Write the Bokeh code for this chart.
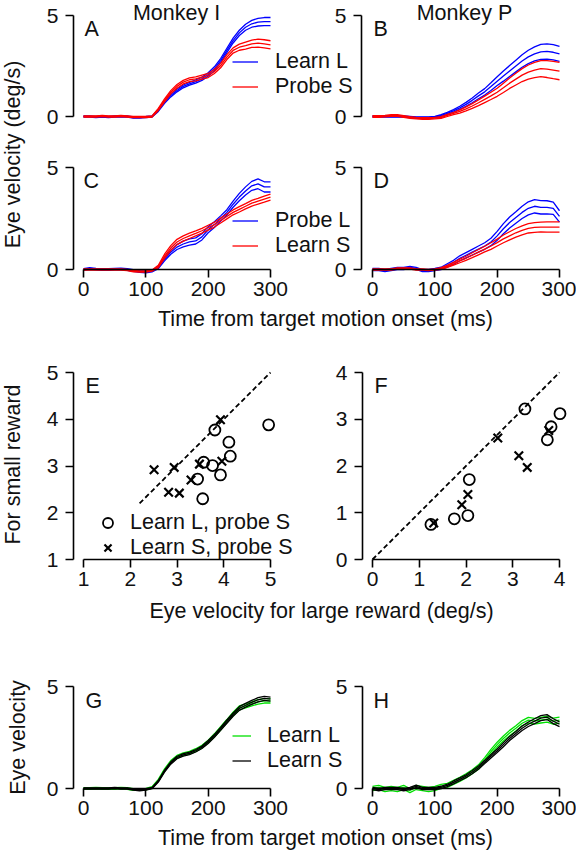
from math import pi
from bokeh.plotting import figure
from bokeh.models import Range1d, LinearAxis, FixedTicker, Legend, LegendItem
from bokeh.core.properties import value
from bokeh.embed import file_html
from bokeh.resources import INLINE

# ---------------- data ----------------
t_ms = [0, 10, 20, 30, 40, 50, 60, 70, 80, 90, 100, 110, 120, 130, 140, 150,
        160, 170, 180, 190, 200, 210, 220, 230, 240, 250, 260, 270, 280, 290, 300]

# Panel A (Monkey I): Learn L (blue), Probe S (red)
A_learnL_mean = [0, 0, -0.02, 0, -0.02, 0, 0, 0, -0.05, -0.05, -0.03, 0, 0.3, 0.71, 1.04, 1.29,
                 1.49, 1.62, 1.73, 1.87, 2.08, 2.36, 2.77, 3.27, 3.76, 4.14, 4.42, 4.59, 4.67, 4.7, 4.7]
A_learnL_se = [0.03, 0.03, 0.03, 0.03, 0.03, 0.03, 0.03, 0.03, 0.03, 0.03, 0.03, 0.03, 0.05, 0.06, 0.07, 0.07,
               0.07, 0.07, 0.08, 0.08, 0.09, 0.1, 0.1, 0.11, 0.12, 0.13, 0.15, 0.17, 0.19, 0.2, 0.2]
A_probeS_mean = [0, 0, 0, 0.02, 0, 0, 0.02, 0, -0.03, -0.03, -0.02, 0, 0.35, 0.8, 1.2, 1.49,
                 1.7, 1.82, 1.86, 1.95, 2.03, 2.23, 2.52, 2.94, 3.27, 3.43, 3.51, 3.6, 3.63, 3.6, 3.55]
A_probeS_se = [0.03, 0.03, 0.03, 0.03, 0.03, 0.03, 0.03, 0.03, 0.03, 0.03, 0.03, 0.03, 0.05, 0.07, 0.08, 0.09,
               0.09, 0.09, 0.1, 0.1, 0.1, 0.1, 0.11, 0.12, 0.13, 0.15, 0.17, 0.18, 0.2, 0.2, 0.2]

# Panel B (Monkey P): Learn L (blue), Probe S (red)
B_learnL_mean = [0, 0, 0, 0, 0, 0, -0.02, -0.05, -0.05, -0.05, -0.02, 0.05, 0.15, 0.28, 0.43, 0.6,
                 0.8, 1.02, 1.22, 1.48, 1.75, 2.0, 2.25, 2.5, 2.75, 2.95, 3.1, 3.2, 3.22, 3.18, 3.1]
B_learnL_se = [0.03, 0.03, 0.03, 0.03, 0.03, 0.03, 0.03, 0.03, 0.03, 0.03, 0.03, 0.04, 0.05, 0.06, 0.08, 0.1,
               0.12, 0.14, 0.16, 0.19, 0.22, 0.25, 0.27, 0.29, 0.31, 0.33, 0.35, 0.37, 0.38, 0.38, 0.37]
B_probeS_mean = [0, 0, 0.02, 0.05, 0.05, 0, -0.05, -0.08, -0.1, -0.1, -0.08, -0.05, 0.05, 0.15, 0.25, 0.38,
                 0.52, 0.68, 0.85, 1.02, 1.2, 1.42, 1.65, 1.85, 2.05, 2.2, 2.3, 2.37, 2.35, 2.3, 2.25]
B_probeS_se = [0.04, 0.04, 0.04, 0.04, 0.04, 0.04, 0.04, 0.04, 0.04, 0.04, 0.04, 0.04, 0.05, 0.06, 0.08, 0.1,
               0.12, 0.14, 0.16, 0.18, 0.2, 0.23, 0.26, 0.29, 0.32, 0.35, 0.38, 0.4, 0.42, 0.43, 0.43]

# Panel C (Monkey I): Probe L (blue), Learn S (red)
C_probeL_mean = [0, 0.05, 0.02, 0, 0, 0.02, 0.03, 0, -0.05, -0.1, -0.12, -0.08, 0.1, 0.5, 0.85, 1.1,
                 1.25, 1.35, 1.4, 1.6, 1.95, 2.2, 2.5, 2.8, 3.2, 3.55, 3.85, 4.1, 4.2, 4.05, 4.05]
C_probeL_se = [0.04, 0.04, 0.04, 0.04, 0.04, 0.04, 0.04, 0.04, 0.04, 0.04, 0.04, 0.04, 0.06, 0.08, 0.1, 0.12,
               0.14, 0.15, 0.15, 0.15, 0.15, 0.14, 0.13, 0.13, 0.15, 0.18, 0.2, 0.22, 0.24, 0.25, 0.25]
C_learnS_mean = [0, 0, 0, 0, 0, 0, 0, -0.03, -0.08, -0.1, -0.1, -0.05, 0.15, 0.65, 1.05, 1.35,
                 1.52, 1.65, 1.77, 1.9, 2.05, 2.2, 2.4, 2.6, 2.8, 2.95, 3.1, 3.25, 3.35, 3.45, 3.55]
C_learnS_se = [0.03, 0.03, 0.03, 0.03, 0.03, 0.03, 0.03, 0.03, 0.03, 0.03, 0.03, 0.03, 0.06, 0.1, 0.12, 0.13,
               0.13, 0.13, 0.12, 0.12, 0.12, 0.12, 0.12, 0.12, 0.12, 0.13, 0.13, 0.14, 0.14, 0.15, 0.15]

# Panel D (Monkey P): Probe L (blue), Learn S (red)
D_probeL_mean = [0, 0, -0.05, 0, 0.05, 0.05, 0.1, 0.05, -0.05, -0.05, 0, 0.05, 0.2, 0.35, 0.55, 0.7,
                 0.85, 1.0, 1.15, 1.35, 1.65, 2.0, 2.3, 2.55, 2.8, 3.0, 3.1, 3.05, 3.05, 3.0, 2.6]
D_probeL_se = [0.05, 0.05, 0.05, 0.05, 0.05, 0.05, 0.05, 0.05, 0.05, 0.05, 0.05, 0.06, 0.08, 0.1, 0.12, 0.13,
               0.14, 0.15, 0.16, 0.18, 0.22, 0.25, 0.27, 0.28, 0.3, 0.32, 0.33, 0.33, 0.32, 0.3, 0.28]
D_learnS_mean = [0, 0, 0, 0, 0.05, 0.05, 0.05, 0, 0, -0.02, 0, 0.05, 0.15, 0.28, 0.42, 0.55,
                 0.7, 0.85, 1.0, 1.15, 1.32, 1.5, 1.65, 1.8, 1.92, 2.02, 2.06, 2.08, 2.08, 2.08, 2.08]
D_learnS_se = [0.03, 0.03, 0.03, 0.03, 0.03, 0.03, 0.03, 0.03, 0.03, 0.03, 0.03, 0.04, 0.05, 0.07, 0.09, 0.1,
               0.12, 0.13, 0.14, 0.16, 0.17, 0.19, 0.2, 0.21, 0.22, 0.23, 0.24, 0.24, 0.25, 0.25, 0.25]

# Panel G (Monkey I): Learn L (green), Learn S (black)
G_learnL_mean = [0, 0, 0.02, 0, 0, 0, 0.02, 0, -0.05, -0.05, -0.03, 0.05, 0.4, 0.9, 1.3, 1.55,
                 1.68, 1.75, 1.88, 2.05, 2.3, 2.6, 2.95, 3.3, 3.65, 3.95, 4.05, 4.15, 4.25, 4.3, 4.3]
G_learnL_se = [0.04, 0.04, 0.04, 0.04, 0.04, 0.04, 0.04, 0.04, 0.04, 0.04, 0.04, 0.04, 0.05, 0.06, 0.07, 0.07,
               0.07, 0.07, 0.07, 0.07, 0.07, 0.08, 0.08, 0.08, 0.09, 0.1, 0.1, 0.1, 0.11, 0.11, 0.11]
G_learnS_mean = [0, 0, 0, 0, 0, 0.02, 0, 0, -0.05, -0.08, -0.05, 0.02, 0.35, 0.85, 1.25, 1.52,
                 1.65, 1.72, 1.85, 2.02, 2.28, 2.58, 2.92, 3.28, 3.62, 3.92, 4.08, 4.22, 4.35, 4.42, 4.38]
G_learnS_se = [0.03, 0.03, 0.03, 0.03, 0.03, 0.03, 0.03, 0.03, 0.03, 0.03, 0.03, 0.03, 0.04, 0.05, 0.06, 0.06,
               0.06, 0.06, 0.06, 0.06, 0.07, 0.07, 0.07, 0.08, 0.08, 0.09, 0.09, 0.1, 0.1, 0.1, 0.1]

# Panel H (Monkey P): Learn L (green), Learn S (black)
H_learnL_mean = [0, 0.05, -0.05, 0, -0.05, 0.05, -0.1, 0.05, 0, -0.05, 0, 0.1, 0.15, 0.3, 0.45, 0.62,
                 0.82, 1.05, 1.4, 1.8, 2.15, 2.45, 2.72, 2.95, 3.2, 3.35, 3.3, 3.35, 3.4, 3.3, 3.35]
H_learnL_se = [0.1, 0.1, 0.1, 0.1, 0.1, 0.1, 0.1, 0.1, 0.1, 0.1, 0.1, 0.1, 0.1, 0.1, 0.1, 0.1,
               0.1, 0.11, 0.11, 0.12, 0.12, 0.12, 0.13, 0.13, 0.13, 0.14, 0.14, 0.14, 0.15, 0.15, 0.15]
H_learnS_mean = [0, -0.05, 0, 0, 0, -0.05, 0, 0.1, 0, 0, 0, 0.05, 0.15, 0.3, 0.45, 0.6,
                 0.8, 1.02, 1.3, 1.58, 1.85, 2.15, 2.45, 2.7, 2.95, 3.15, 3.3, 3.45, 3.5, 3.3, 3.15]
H_learnS_se = [0.06, 0.06, 0.06, 0.06, 0.06, 0.06, 0.06, 0.06, 0.06, 0.06, 0.06, 0.06, 0.06, 0.07, 0.07, 0.07,
               0.08, 0.08, 0.08, 0.09, 0.09, 0.1, 0.1, 0.1, 0.11, 0.11, 0.12, 0.12, 0.12, 0.12, 0.12]

# Panel E (Monkey I) scatter: eye velocity large reward (x) vs small reward (y)
E_learnL_x = [4.96, 3.81, 4.11, 4.14, 3.57, 3.76, 3.93, 3.44, 3.55]
E_learnL_y = [3.88, 3.77, 3.51, 3.21, 3.08, 3.01, 2.81, 2.72, 2.30]
E_learnS_x = [2.51, 2.94, 3.48, 3.30, 2.82, 3.05, 3.93, 3.96]
E_learnS_y = [2.92, 2.97, 3.04, 2.70, 2.44, 2.42, 3.99, 3.10]
E_unity = [2.2, 5.0]

# Panel F (Monkey P) scatter
F_learnL_x = [3.26, 4.01, 3.82, 3.74, 2.07, 1.75, 2.04, 1.25]
F_learnL_y = [3.22, 3.12, 2.84, 2.56, 1.71, 0.87, 0.94, 0.75]
F_learnS_x = [1.31, 1.91, 2.04, 2.68, 3.13, 3.31, 3.77]
F_learnS_y = [0.78, 1.17, 1.39, 2.60, 2.22, 1.97, 2.76]
F_unity = [0.0, 4.0]

time_ticks = [0, 100, 200, 300]
vel_ticks = [0, 5]
E_ticks = [1, 2, 3, 4, 5]
F_ticks = [0, 1, 2, 3, 4]

# ---------------- layout helpers (pixel placement of each panel) ----------------
FONT = "Liberation Sans"
W, H = 576, 852
OX, OY = 0, 0          # canvas origin in picture pixels

BLUE, RED, GREEN, BLACK = "#0000ff", "#ff0000", "#00e000", "#000000"


def make_x_range(v0, px0, v1, px1):
    k = (px1 - px0) / (v1 - v0)
    s = v0 - (px0 - OX) / k
    return Range1d(start=s, end=s + W / k), k


def make_y_range(v0, py0, v1, py1):
    k = (py0 - py1) / (v1 - v0)
    s = v0 - (OY + H - py0) / k
    return Range1d(start=s, end=s + H / k), k


p = figure(width=W, height=H, output_backend="svg", toolbar_location=None,
           title=None, x_axis_type=None, y_axis_type=None,
           x_range=Range1d(OX, OX + W), y_range=Range1d(OY + H, OY),
           min_border=0, outline_line_color=None)
p.grid.visible = False
p.background_fill_color = "white"
p.border_fill_color = "white"

# name: (x anchors, y anchors, y-spine pixel, xbounds, ybounds, xticks, yticks, draw x axis)
panels = {
    "A": ((0, 83, 300, 270), (0, 116, 5, 15), 73, (0, 300), (0, 5), time_ticks, vel_ticks, False),
    "B": ((0, 372, 300, 559), (0, 116, 5, 15), 361, (0, 300), (0, 5), time_ticks, vel_ticks, False),
    "C": ((0, 83, 300, 270), (0, 269, 5, 167), 73, (0, 300), (0, 5), time_ticks, vel_ticks, True),
    "D": ((0, 372, 300, 559), (0, 269, 5, 167), 361, (0, 300), (0, 5), time_ticks, vel_ticks, True),
    "E": ((1, 83, 5, 270), (1, 559, 5, 372), 73, (1, 5), (1, 5), E_ticks, E_ticks, True),
    "F": ((0, 372, 4, 559), (0, 559, 4, 372), 362, (0, 4), (0, 4), F_ticks, F_ticks, True),
    "G": ((0, 83, 300, 270), (0, 788, 5, 686), 73, (0, 300), (0, 5), time_ticks, vel_ticks, True),
    "H": ((0, 372, 300, 559), (0, 788, 5, 686), 362, (0, 300), (0, 5), time_ticks, vel_ticks, True),
}


def style_axis(ax):
    ax.axis_line_width = 1.6
    ax.axis_line_color = "black"
    ax.major_tick_line_width = 1.6
    ax.major_tick_line_color = "black"
    ax.major_tick_out = 8
    ax.major_tick_in = 0
    ax.minor_tick_line_color = None
    ax.major_label_text_font = FONT
    ax.major_label_text_font_size = "21px"
    ax.major_label_text_color = "#111111"


for name, (xa, ya, spine_px, xb, yb, xt, yt, draw_x) in panels.items():
    xr, kx = make_x_range(*xa)
    yr, ky = make_y_range(*ya)
    p.extra_x_ranges[name + "x"] = xr
    p.extra_y_ranges[name + "y"] = yr
    yax = LinearAxis(x_range_name=name + "x", y_range_name=name + "y",
                     fixed_location=xa[0] + (spine_px - xa[1]) / kx, bounds=yb,
                     ticker=FixedTicker(ticks=yt))
    style_axis(yax)
    yax.major_label_standoff = 7
    p.add_layout(yax, "left")
    if draw_x:
        xax = LinearAxis(x_range_name=name + "x", y_range_name=name + "y",
                         fixed_location=yb[0], bounds=xb,
                         ticker=FixedTicker(ticks=xt))
        style_axis(xax)
        xax.major_label_standoff = 4
        p.add_layout(xax, "below")


def traces(panel, mean, se, color):
    lo = [m - s for m, s in zip(mean, se)]
    hi = [m + s for m, s in zip(mean, se)]
    return p.multi_line(xs=[t_ms, t_ms, t_ms], ys=[lo, mean, hi], line_color=color,
                        line_width=1.3, x_range_name=panel + "x", y_range_name=panel + "y")


rA1 = traces("A", A_learnL_mean, A_learnL_se, BLUE)
rA2 = traces("A", A_probeS_mean, A_probeS_se, RED)
traces("B", B_learnL_mean, B_learnL_se, BLUE)
traces("B", B_probeS_mean, B_probeS_se, RED)
rC1 = traces("C", C_probeL_mean, C_probeL_se, BLUE)
rC2 = traces("C", C_learnS_mean, C_learnS_se, RED)
traces("D", D_probeL_mean, D_probeL_se, BLUE)
traces("D", D_learnS_mean, D_learnS_se, RED)
rG1 = traces("G", G_learnL_mean, G_learnL_se, GREEN)
rG2 = traces("G", G_learnS_mean, G_learnS_se, BLACK)
traces("H", H_learnL_mean, H_learnL_se, GREEN)
traces("H", H_learnS_mean, H_learnS_se, BLACK)

# scatter panels
p.line(E_unity, E_unity, line_color="black", line_width=1.8, line_dash="5 3",
       x_range_name="Ex", y_range_name="Ey")
p.line(F_unity, F_unity, line_color="black", line_width=1.8, line_dash="5 3",
       x_range_name="Fx", y_range_name="Fy")
rE1 = p.scatter(E_learnL_x, E_learnL_y, marker="circle", size=11, fill_color=None,
                line_color="black", line_width=1.8, x_range_name="Ex", y_range_name="Ey")
rE2 = p.scatter(E_learnS_x, E_learnS_y, marker="x", size=12,
                line_color="black", line_width=2.2, x_range_name="Ex", y_range_name="Ey")
p.scatter(F_learnL_x, F_learnL_y, marker="circle", size=11, fill_color=None,
          line_color="black", line_width=1.8, x_range_name="Fx", y_range_name="Fy")
p.scatter(F_learnS_x, F_learnS_y, marker="x", size=12,
          line_color="black", line_width=2.2, x_range_name="Fx", y_range_name="Fy")

# legends (placed by pixel position of their first row)
ROW = 25


def add_legend(items, left_px, first_row_px, glyph_w, standoff):
    n = len(items)
    bottom = first_row_px - ROW / 2 + n * ROW
    leg = Legend(items=[LegendItem(label=l, renderers=[r]) for l, r in items],
                 location=(float(left_px - OX), float(OY + H - bottom)),
                 glyph_width=int(glyph_w), glyph_height=ROW, label_height=ROW,
                 label_standoff=int(standoff), spacing=0, padding=0, margin=0,
                 label_text_font=FONT, label_text_font_size="21.5px",
                 label_text_color="#111111",
                 background_fill_alpha=0, border_line_alpha=0)
    p.add_layout(leg)


add_legend([("Learn L", rA1), ("Probe S", rA2)], 232, 61, 26, 17)
add_legend([("Probe L", rC1), ("Learn S", rC2)], 232, 220, 26, 17)
add_legend([("Learn L, probe S", rE1), ("Learn S, probe S", rE2)], 95, 522, 25, 10)
add_legend([("Learn L", rG1), ("Learn S", rG2)], 232, 735, 19, 16)

# texts (positions in picture pixels; y is the vertical middle of each text)
common = dict(text_font=value(FONT), text_color="#111111", text_font_size="21.5px",
              text_baseline="middle")
p.text(x=[176, 464], y=[12, 12], text=["Monkey I", "Monkey P"],
       text_align="center", **common)
p.text(x=[325, 321, 325], y=[318.5, 610.5, 837],
       text=["Time from target motion onset (ms)", "Eye velocity for large reward (deg/s)",
             "Time from target motion onset (ms)"],
       text_align="center", **common)
p.text(x=[12, 12, 17], y=[154, 464, 737],
       text=["Eye velocity (deg/s)", "For small reward", "Eye velocity"],
       angle=pi / 2, text_align="center", **common)
p.text(x=[84, 373, 83, 373, 85, 374, 85, 373], y=[28, 28, 180, 180, 385, 385, 700, 700],
       text=["A", "B", "C", "D", "E", "F", "G", "H"],
       text_align="left", **common)

open("out.html", "w").write(file_html(p, INLINE))
